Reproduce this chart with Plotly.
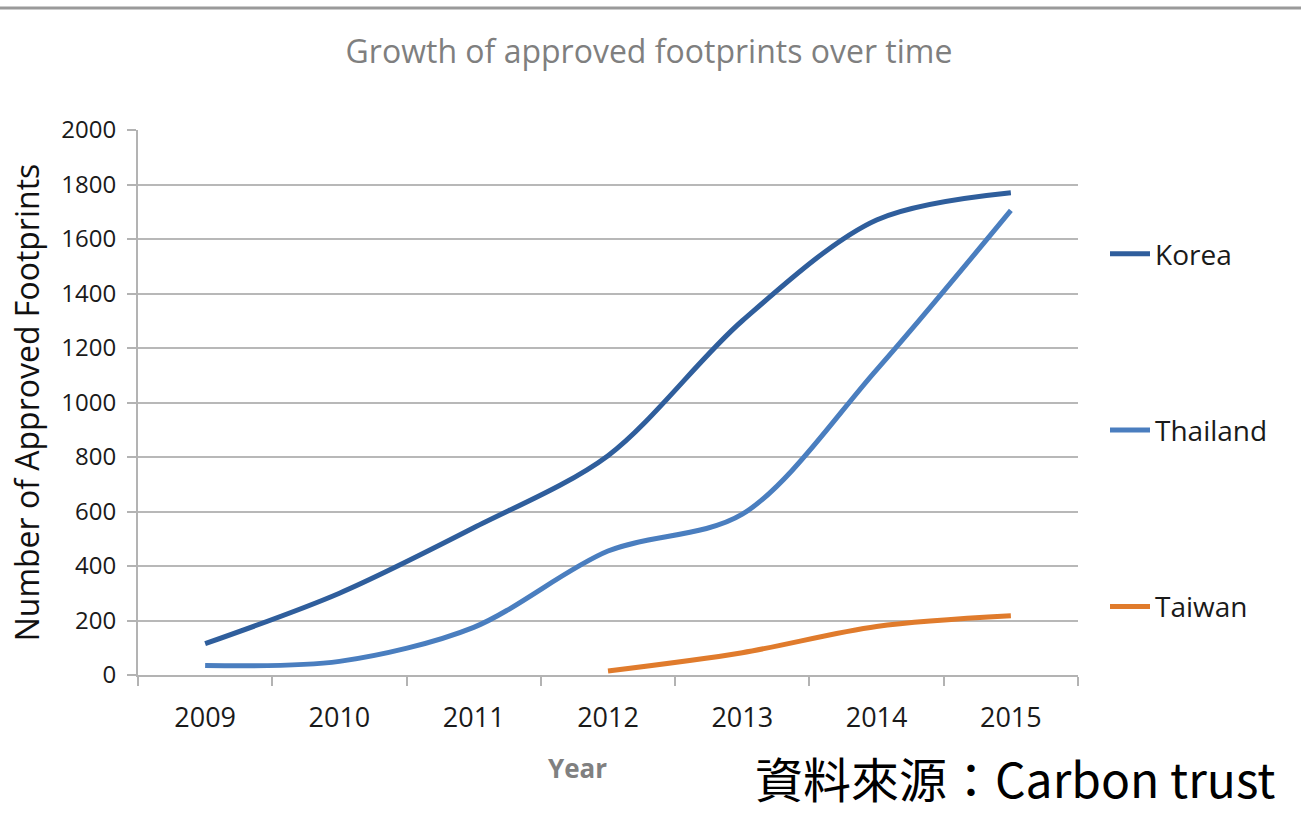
import plotly.graph_objects as go

years = ["2009", "2010", "2011", "2012", "2013", "2014", "2015"]
korea = [115, 300, 540, 805, 1300, 1670, 1770]
thailand = [35, 50, 175, 455, 590, 1120, 1705]
taiwan_years = ["2012", "2013", "2014", "2015"]
taiwan = [15, 82, 178, 217]
y_ticks = [0, 200, 400, 600, 800, 1000, 1200, 1400, 1600, 1800, 2000]

FONT = "Open Sans"
L, R, T, B = 138, 1078, 130, 675
PW, PH = R - L, B - T

fig = go.Figure()
fig.add_trace(go.Scatter(x=years, y=korea, name="Korea", mode="lines",
                         line=dict(color="#2F5E9C", width=5, shape="spline", smoothing=0.9),
                         legendgroup="a"))
fig.add_trace(go.Scatter(x=years, y=thailand, name="Thailand", mode="lines",
                         line=dict(color="#4A7EBF", width=5, shape="spline", smoothing=0.9),
                         legendgroup="b"))
fig.add_trace(go.Scatter(x=taiwan_years, y=taiwan, name="Taiwan", mode="lines",
                         line=dict(color="#E07B2C", width=5, shape="spline", smoothing=0.9),
                         legendgroup="c"))

fig.update_layout(
    width=1301, height=821,
    margin=dict(l=L, r=1301 - R, t=T, b=821 - B),
    paper_bgcolor="white", plot_bgcolor="white",
    font=dict(family=FONT, color="#1a1a1a"),
    title=dict(text="Growth of approved footprints over time",
               font=dict(family=FONT, size=32, color="#7f7f7f"),
               x=649 / 1301, xanchor="center", xref="container",
               y=1 - 52 / 821, yanchor="middle"),
    showlegend=True,
    legend=dict(x=(1105 - L) / PW, xanchor="left", y=1 - (229 - T) / PH, yanchor="top",
                font=dict(family=FONT, size=28, color="#1a1a1a"),
                traceorder="grouped", tracegroupgap=137,
                itemwidth=40, bgcolor="rgba(0,0,0,0)"),
    xaxis=dict(
        type="category", categoryorder="array", categoryarray=years,
        range=[-0.5, 6.5],
        showgrid=False, showline=True, linecolor="#b3b3b3", linewidth=2,
        ticks="outside", tickson="boundaries", ticklen=9, tickcolor="#b3b3b3", tickwidth=2,
        tickfont=dict(family=FONT, size=27, color="#1a1a1a"),
        ticklabelstandoff=18,
        zeroline=False,
    ),
    yaxis=dict(
        range=[0, 2000], tickvals=y_ticks,
        showgrid=True, gridcolor="#b8b8b8", gridwidth=2,
        showline=True, linecolor="#b3b3b3", linewidth=2,
        ticks="outside", ticklen=9, tickcolor="#b3b3b3", tickwidth=2,
        tickfont=dict(family=FONT, size=24, color="#1a1a1a"),
        ticklabelstandoff=6,
        title=dict(text="Number of Approved Footprints",
                   font=dict(family=FONT, size=32, color="#111111"), standoff=12),
        zeroline=False,
    ),
)

# top border line of the original slide
fig.add_shape(type="line", xref="paper", yref="paper",
              x0=-L / PW, x1=(1301 - L) / PW, y0=1 + (T - 8) / PH, y1=1 + (T - 8) / PH,
              line=dict(color="#9a9a9a", width=3))

fig.add_annotation(text="<b>Year</b>", xref="paper", yref="paper",
                   x=(577 - L) / PW, xanchor="center",
                   y=-(768 - B) / PH, yanchor="middle", showarrow=False,
                   font=dict(family=FONT, size=26, color="#808080"))

fig.add_annotation(text="資料來源：Carbon trust", xref="paper", yref="paper",
                   x=(1277 - L) / PW, xanchor="right",
                   y=-(777 - B) / PH, yanchor="middle", showarrow=False,
                   font=dict(family="Noto Sans CJK TC", size=48, color="#000000"))

fig.write_html("out.html")
